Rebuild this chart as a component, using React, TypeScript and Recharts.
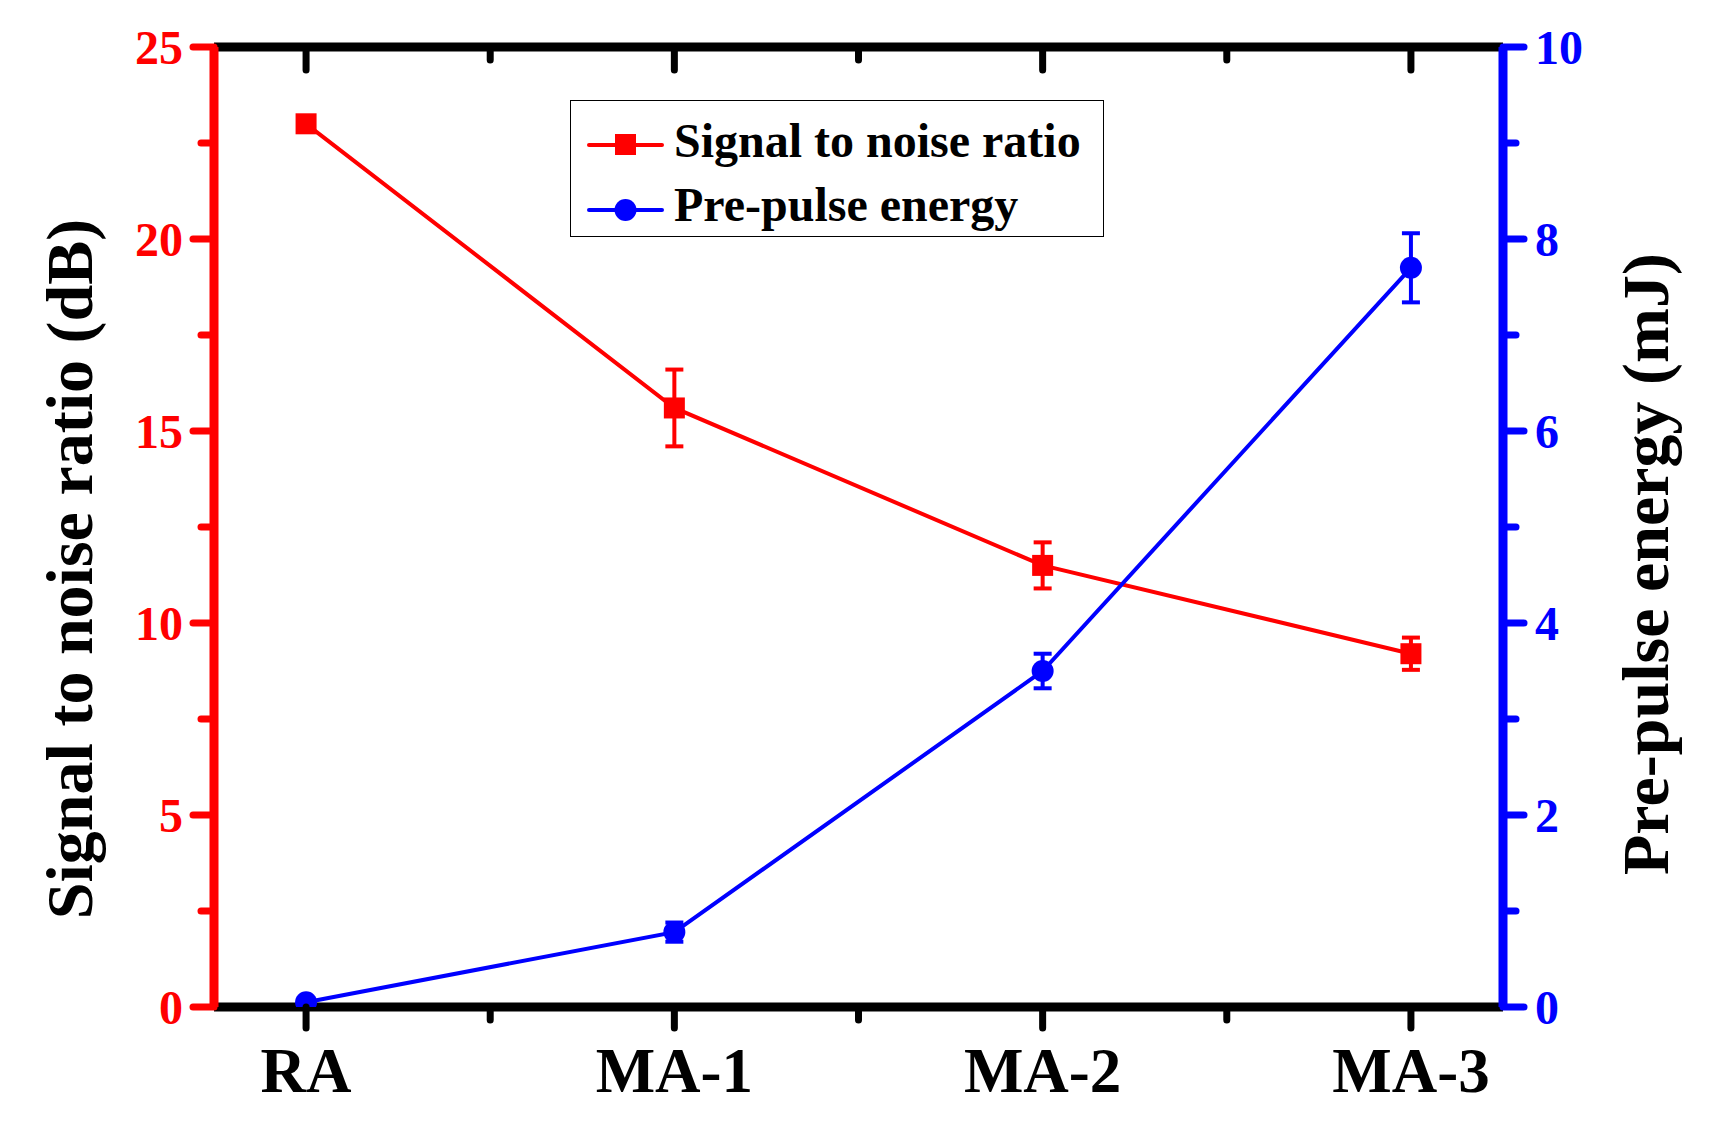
import React from 'react';
import { LineChart, Line, XAxis, YAxis, ErrorBar, Legend } from 'recharts';

const categories = ['RA', 'MA-1', 'MA-2', 'MA-3'];
const snrValues = [23.0, 15.6, 11.5, 9.2];
const snrErrors = [0.2, 1.0, 0.6, 0.42];
const energyValues = [0.05, 0.78, 3.5, 7.7];
const energyErrors = [0.02, 0.1, 0.18, 0.36];
const xTicks = [1, 1.5, 2, 2.5, 3, 3.5, 4];
const snrTicks = [0, 2.5, 5, 7.5, 10, 12.5, 15, 17.5, 20, 22.5, 25];
const energyTicks = [0, 1, 2, 3, 4, 5, 6, 7, 8, 9, 10];

const RED = '#FF0000';
const BLUE = '#0000FF';
const FONT = "'Liberation Serif', 'Times New Roman', serif";

const data = categories.map((name, i) => ({
  x: i + 1,
  name,
  snr: snrValues[i],
  snrErr: snrErrors[i],
  energy: energyValues[i],
  energyErr: energyErrors[i],
}));

const BottomTick = (props: any) => {
  const { x, y, payload } = props;
  const v = payload.value;
  const major = Number.isInteger(v);
  return (
    <g>
      <line x1={x} y1={y} x2={x} y2={y + (major ? 21 : 13)} stroke="#000" strokeWidth={7} strokeLinecap="round" />
      {major && (
        <text x={x} y={y + 85} textAnchor="middle" fontFamily={FONT} fontWeight="bold" fontSize={63} fill="#000">
          {categories[v - 1]}
        </text>
      )}
    </g>
  );
};

const TopTick = (props: any) => {
  const { x, y, payload } = props;
  const major = Number.isInteger(payload.value);
  return <line x1={x} y1={y} x2={x} y2={y + (major ? 23 : 13)} stroke="#000" strokeWidth={7} strokeLinecap="round" />;
};

const LeftTick = (props: any) => {
  const { x, y, payload } = props;
  const v = payload.value;
  const major = v % 5 === 0;
  return (
    <g>
      <line x1={x} y1={y} x2={x - (major ? 21 : 13)} y2={y} stroke={RED} strokeWidth={7} strokeLinecap="round" />
      {major && (
        <text x={x - 31} y={y} dy="0.35em" textAnchor="end" fontFamily={FONT} fontWeight="bold" fontSize={48} fill={RED}>
          {v}
        </text>
      )}
    </g>
  );
};

const RightTick = (props: any) => {
  const { x, y, payload } = props;
  const v = payload.value;
  const major = v % 2 === 0;
  return (
    <g>
      <line x1={x} y1={y} x2={x + (major ? 21 : 13)} y2={y} stroke={BLUE} strokeWidth={7} strokeLinecap="round" />
      {major && (
        <text x={x + 32} y={y} dy="0.35em" textAnchor="start" fontFamily={FONT} fontWeight="bold" fontSize={48} fill={BLUE}>
          {v}
        </text>
      )}
    </g>
  );
};

const SquareDot = (props: any) => {
  const { cx, cy } = props;
  if (cx == null || cy == null) return null;
  return <rect x={cx - 10.5} y={cy - 10.5} width={21} height={21} fill={RED} />;
};

const CircleDot = (props: any) => {
  const { cx, cy } = props;
  if (cx == null || cy == null) return null;
  return <circle cx={cx} cy={cy} r={11} fill={BLUE} />;
};

const LegendBox = () => (
  <div style={{ width: 534, height: 137, border: '1.5px solid #000', boxSizing: 'border-box', background: '#fff' }}>
    <svg width={531} height={134} style={{ display: 'block' }}>
      <line x1={18} y1={44} x2={91} y2={44} stroke={RED} strokeWidth={4} strokeLinecap="round" />
      <rect x={44} y={33} width={21} height={21} fill={RED} />
      <text x={103} y={56} fontFamily={FONT} fontWeight="bold" fontSize={48} fill="#000">Signal to noise ratio</text>
      <line x1={18} y1={109} x2={91} y2={109} stroke={BLUE} strokeWidth={4} strokeLinecap="round" />
      <circle cx={54.5} cy={109} r={11} fill={BLUE} />
      <text x={103} y={120} fontFamily={FONT} fontWeight="bold" fontSize={48} fill="#000">Pre-pulse energy</text>
    </svg>
  </div>
);

export default function App() {
  return (
    <div style={{ position: 'relative', width: 1722, height: 1130, background: '#fff' }}>
      <style>{`body { margin: 0; }`}</style>
      <LineChart width={1722} height={1130} data={data} margin={{ top: 17, right: 0, bottom: 0, left: 0 }}>
        <XAxis
          xAxisId="bottom"
          dataKey="x"
          type="number"
          domain={[0.75, 4.25]}
          ticks={xTicks}
          interval={0}
          height={123}
          tickSize={0}
          tickMargin={0}
          tickLine={false}
          axisLine={{ stroke: '#000', strokeWidth: 9 }}
          tick={<BottomTick />}
          allowDataOverflow
        />
        <XAxis
          xAxisId="top"
          orientation="top"
          dataKey="x"
          type="number"
          domain={[0.75, 4.25]}
          ticks={xTicks}
          interval={0}
          height={30}
          tickSize={0}
          tickMargin={0}
          tickLine={false}
          axisLine={{ stroke: '#000', strokeWidth: 9 }}
          tick={<TopTick />}
          allowDataOverflow
        />
        <YAxis
          yAxisId="left"
          domain={[0, 25]}
          ticks={snrTicks}
          interval={0}
          width={214}
          tickSize={0}
          tickMargin={0}
          tickLine={false}
          axisLine={{ stroke: RED, strokeWidth: 9 }}
          tick={<LeftTick />}
          allowDataOverflow
        />
        <YAxis
          yAxisId="right"
          orientation="right"
          domain={[0, 10]}
          ticks={energyTicks}
          interval={0}
          width={219}
          tickSize={0}
          tickMargin={0}
          tickLine={false}
          axisLine={{ stroke: BLUE, strokeWidth: 9 }}
          tick={<RightTick />}
          allowDataOverflow
        />
        <Legend
          verticalAlign="middle"
          align="center"
          content={<LegendBox />}
          wrapperStyle={{ position: 'absolute', left: 570, top: 100, width: 534, height: 137 }}
        />
        <Line
          xAxisId="top"
          yAxisId="left"
          dataKey="snr"
          stroke="none"
          dot={false}
          activeDot={false}
          legendType="none"
          isAnimationActive={false}
        />
        <Line
          xAxisId="bottom"
          yAxisId="left"
          dataKey="snr"
          stroke={RED}
          strokeWidth={4}
          dot={<SquareDot />}
          activeDot={false}
          isAnimationActive={false}
        >
          <ErrorBar dataKey="snrErr" width={9} stroke={RED} strokeWidth={4} direction="y" />
        </Line>
        <Line
          xAxisId="bottom"
          yAxisId="right"
          dataKey="energy"
          stroke={BLUE}
          strokeWidth={4}
          dot={<CircleDot />}
          activeDot={false}
          isAnimationActive={false}
        >
          <ErrorBar dataKey="energyErr" width={9} stroke={BLUE} strokeWidth={4} direction="y" />
        </Line>
      </LineChart>
      <svg
        width={1722}
        height={1130}
        style={{ position: 'absolute', left: 0, top: 0, pointerEvents: 'none' }}
      >
        <text
          transform="translate(92, 569) rotate(-90)"
          textAnchor="middle"
          fontFamily={FONT}
          fontWeight="bold"
          fontSize={66}
          fill="#000"
        >
          Signal to noise ratio (dB)
        </text>
        <text
          transform="translate(1668, 564) rotate(-90)"
          textAnchor="middle"
          fontFamily={FONT}
          fontWeight="bold"
          fontSize={66}
          fill="#000"
        >
          Pre-pulse energy (mJ)
        </text>
      </svg>
    </div>
  );
}
